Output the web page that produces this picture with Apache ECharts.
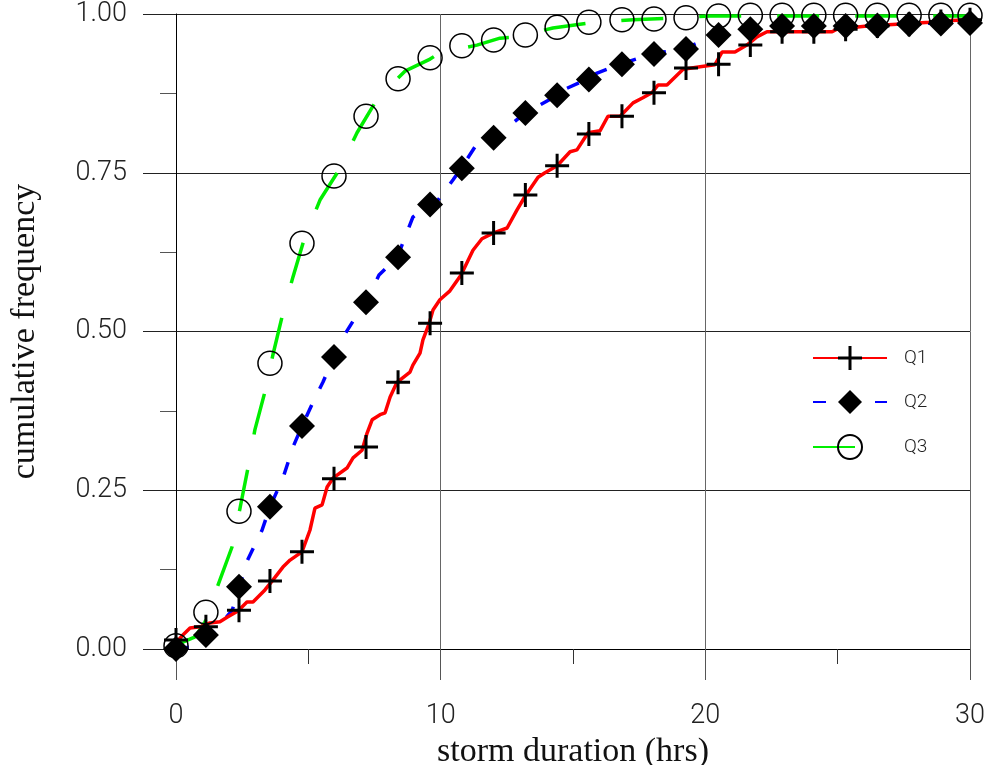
<!DOCTYPE html>
<html>
<head>
<meta charset="utf-8">
<script src="https://cdn.jsdelivr.net/npm/echarts@6/dist/echarts.min.js"></script>
<style>
  html, body { margin: 0; padding: 0; background: #fff; }
  #main { width: 987px; height: 765px; }
</style>
</head>
<body>
<div id="main"></div>
<script>
// tick labels
var xTicks = [0, 10, 20, 30];
var yTicks = ['0.00', '0.25', '0.50', '0.75', '1.00'];
var seriesNames = ['Q1', 'Q2', 'Q3'];

// marker positions (hrs) shared by all three curves
var markX = [0, 1.13, 2.38, 3.55, 4.76, 5.97, 7.18, 8.39, 9.6, 10.8, 12.0, 13.2, 14.4,
  15.6, 16.85, 18.06, 19.27, 20.5, 21.7, 22.9, 24.1, 25.3, 26.5, 27.7, 28.9, 30];
var q1Mark = [0.014, 0.035, 0.061, 0.107, 0.153, 0.268, 0.318, 0.42, 0.513, 0.592, 0.655, 0.715, 0.761,
  0.811, 0.839, 0.876, 0.915, 0.921, 0.951, 0.972, 0.972, 0.976, 0.981, 0.984, 0.988, 0.991];
var q2Mark = [0.0, 0.022, 0.098, 0.224, 0.351, 0.46, 0.546, 0.617, 0.70, 0.757, 0.805, 0.844, 0.872,
  0.897, 0.921, 0.937, 0.945, 0.967, 0.976, 0.981, 0.981, 0.981, 0.982, 0.984, 0.985, 0.986];
var q3Mark = [0.005, 0.058, 0.217, 0.45, 0.639, 0.745, 0.839, 0.898, 0.931, 0.95, 0.959, 0.967, 0.979,
  0.987, 0.991, 0.992, 0.994, 0.997, 0.998, 0.998, 0.998, 0.998, 0.998, 0.998, 0.998, 0.998];

// the cumulative curves themselves
var q1LineX = [0, 0.26, 0.53, 0.91, 1.28, 1.66, 1.93, 2.34, 2.68, 2.91, 3.36, 3.63, 4.04, 4.31, 4.76,
  5.06, 5.25, 5.52, 5.71, 5.93, 6.46, 6.69, 7.03, 7.22, 7.41, 7.71, 7.9, 8.09, 8.35, 8.84, 8.95,
  9.22, 9.33, 9.56, 9.71, 9.97, 10.35, 10.77, 11.22, 11.56, 11.98, 12.51, 12.88, 13.19, 13.68,
  13.94, 14.4, 14.89, 15.15, 15.57, 16.02, 16.32, 16.78, 17.27, 17.64, 17.98, 18.21, 18.55,
  19.16, 19.8, 20.36, 20.63, 21.12, 21.57, 21.95, 22.33, 24.79, 24.97, 26.11, 27.24, 28.49, 28.87, 30];
var q1LineY = [0.01, 0.022, 0.033, 0.035, 0.041, 0.043, 0.05, 0.06, 0.074, 0.074, 0.093, 0.107, 0.129, 0.14, 0.153,
  0.187, 0.222, 0.227, 0.255, 0.269, 0.285, 0.301, 0.313, 0.34, 0.361, 0.369, 0.372, 0.397, 0.42, 0.436, 0.447,
  0.466, 0.487, 0.512, 0.534, 0.55, 0.564, 0.589, 0.628, 0.646, 0.655, 0.663, 0.691, 0.713, 0.743,
  0.75, 0.761, 0.783, 0.786, 0.813, 0.816, 0.839, 0.839, 0.86, 0.868, 0.876, 0.888, 0.888,
  0.913, 0.917, 0.92, 0.94, 0.94, 0.951, 0.964, 0.972, 0.972, 0.976, 0.981, 0.984, 0.987, 0.989, 0.991];

var q2LineX = [0, 0.53, 1.13, 1.66, 2.12, 2.38, 2.61, 2.98, 3.25, 3.55, 4.04, 4.42, 4.76, 5.18, 5.55,
  5.97, 6.31, 6.76, 7.18, 7.67, 8.16, 8.39, 8.95, 9.56, 9.9, 10.47, 10.77, 11.41, 11.98, 12.54,
  13.19, 13.64, 14.4, 14.77, 15.57, 15.91, 16.78, 17.98, 18.4, 19.16, 19.69, 20.36, 20.89, 21.61,
  22.33, 23.09, 24.82, 26.11, 27.09, 28.75, 30];
var q2LineY = [0, 0.003, 0.014, 0.038, 0.061, 0.093, 0.132, 0.164, 0.187, 0.224, 0.269, 0.318, 0.351, 0.389, 0.42,
  0.46, 0.491, 0.521, 0.546, 0.589, 0.609, 0.62, 0.68, 0.701, 0.707, 0.739, 0.757, 0.798, 0.805, 0.822,
  0.844, 0.854, 0.872, 0.883, 0.898, 0.907, 0.921, 0.937, 0.94, 0.945, 0.954, 0.967, 0.973, 0.976,
  0.978, 0.981, 0.981, 0.981, 0.984, 0.986, 0.986];

var q3LineX = [0, 0.26, 0.72, 1.1, 1.59, 2.12, 2.42, 2.72, 2.98, 3.36, 3.66, 4.04, 4.42, 4.87, 5.44,
  6.2, 6.84, 7.63, 8.65, 9.6, 9.97, 11.37, 12.24, 12.88, 14.24, 15.83, 17.27, 18.93, 20.18, 21.69, 30];
var q3LineY = [0.003, 0.011, 0.019, 0.043, 0.101, 0.161, 0.222, 0.285, 0.345, 0.405, 0.463, 0.529, 0.586, 0.649, 0.707,
  0.757, 0.813, 0.868, 0.91, 0.929, 0.939, 0.951, 0.962, 0.964, 0.978, 0.987, 0.991, 0.994, 0.997, 0.997, 0.997];

function pairs(xs, ys) {
  return xs.map(function (x, i) { return [x, ys[i]]; });
}

var plusPath = 'path://M10.5,0H13.5V10.5H24V13.5H13.5V24H10.5V13.5H0V10.5H10.5Z';

var chart = echarts.init(document.getElementById('main'));

var tickFont = { fontFamily: 'Roboto', fontWeight: 300, fontSize: 27, color: '#222' };
var nameFont = { fontFamily: 'Liberation Serif', fontSize: 34, color: '#111' };

chart.setOption({
  animation: false,
  backgroundColor: '#fff',
  grid: { left: 176, right: 17, top: 14, bottom: 116, outerBoundsMode: 'none', containLabel: false },
  legend: {
    data: seriesNames,
    orient: 'vertical',
    left: 807,
    top: 341,
    itemWidth: 74,
    itemHeight: 30,
    itemGap: 20,
    textStyle: { fontFamily: 'Roboto', fontWeight: 300, fontSize: 19, color: '#222', padding: [0, 0, 0, 12] }
  },
  xAxis: {
    type: 'value',
    min: 0, max: 30, interval: 10,
    name: 'storm duration (hrs)',
    nameLocation: 'middle',
    nameGap: 72,
    nameTextStyle: nameFont,
    axisLine: { onZero: false, lineStyle: { color: '#000', width: 1 } },
    axisTick: { length: 31, lineStyle: { color: '#555' } },
    minorTick: { show: true, splitNumber: 2, length: 15, lineStyle: { color: '#333' } },
    axisLabel: Object.assign({ margin: 54 }, tickFont),
    splitLine: { show: true, lineStyle: { color: '#666', width: 1 } }
  },
  yAxis: {
    type: 'value',
    min: 0, max: 1, interval: 0.25,
    name: 'cumulative frequency',
    nameLocation: 'middle',
    nameGap: 134,
    nameTextStyle: nameFont,
    axisLine: { onZero: false, lineStyle: { color: '#000', width: 1 } },
    axisTick: { length: 33, lineStyle: { color: '#222' } },
    minorTick: { show: true, splitNumber: 2, length: 16, lineStyle: { color: '#555' } },
    axisLabel: Object.assign({
      margin: 49,
      formatter: function (v) { return yTicks[Math.round(v / 0.25)]; }
    }, tickFont),
    splitLine: { show: true, lineStyle: { color: '#222', width: 1 } }
  },
  series: [
    {
      name: 'Q3', type: 'line', data: pairs(q3LineX, q3LineY),
      showSymbol: false, symbol: 'circle', symbolSize: 24,
      itemStyle: { color: 'rgba(255,255,255,0)', borderColor: '#000', borderWidth: 1.5 },
      lineStyle: { color: '#00ee00', width: 3.5, type: [42, 36] },
      z: 2
    },
    {
      name: 'Q2', type: 'line', data: pairs(q2LineX, q2LineY),
      showSymbol: false, symbol: 'diamond', symbolSize: 26,
      itemStyle: { color: '#000' },
      lineStyle: { color: '#0000ff', width: 3.5, type: [13, 18] },
      z: 3
    },
    {
      name: 'Q1', type: 'line', data: pairs(q1LineX, q1LineY),
      showSymbol: false, symbol: plusPath, symbolSize: 24,
      itemStyle: { color: '#000' },
      lineStyle: { color: '#ff0000', width: 3.5 },
      z: 4
    },
    {
      name: 'Q3 marks', type: 'scatter', data: pairs(markX, q3Mark),
      symbol: 'circle', symbolSize: 24,
      itemStyle: { color: 'rgba(255,255,255,0)', borderColor: '#000', borderWidth: 1.5, opacity: 1 },
      z: 5
    },
    {
      name: 'Q2 marks', type: 'scatter', data: pairs(markX, q2Mark),
      symbol: 'diamond', symbolSize: 26,
      itemStyle: { color: '#000', opacity: 1 },
      z: 6
    },
    {
      name: 'Q1 marks', type: 'scatter', data: pairs(markX, q1Mark),
      symbol: plusPath, symbolSize: 24,
      itemStyle: { color: '#000', opacity: 1 },
      z: 7
    }
  ]
});
</script>
</body>
</html>
